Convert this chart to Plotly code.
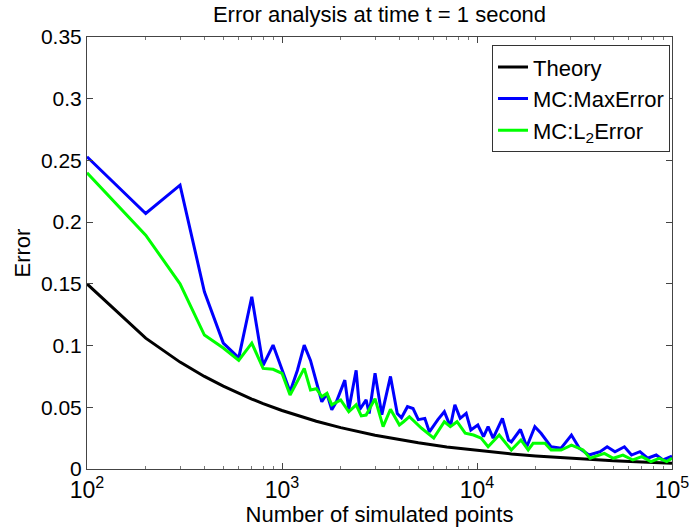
import plotly.graph_objects as go

# Theory curve
theory_n = [100, 200, 300, 400, 500, 600, 700, 800, 900, 1000, 1500, 2000, 3000,
            4000, 5000, 7000, 10000, 15000, 20000, 30000, 50000, 70000, 100000]
theory_err = [0.150, 0.106, 0.0866, 0.075, 0.0671, 0.0612, 0.0567, 0.0530, 0.050,
              0.0474, 0.0387, 0.0335, 0.0274, 0.0237, 0.0212, 0.0179, 0.0150,
              0.0122, 0.0106, 0.0087, 0.0067, 0.0057, 0.0047]

# MC: MaxError
max_n = [100, 200, 300, 400, 500, 600, 700, 800, 900, 1000, 1100, 1200, 1300, 1400,
         1500, 1600, 1700, 1800, 1900, 2100, 2200, 2400, 2500, 2700, 2800, 3000,
         3250, 3600, 3900, 4100, 4400, 4700, 5000, 5400, 5700, 6300, 6800, 7300,
         7700, 8200, 8800, 9300, 10100, 10800, 11400, 12100, 13500, 14500, 15000,
         16700, 18000, 19800, 21300, 24000, 27000, 30500, 33500, 37500, 42800,
         46500, 51000, 57000, 62000, 68500, 75000, 83000, 90000, 100000]
max_err = [0.253, 0.207, 0.230, 0.1436, 0.102, 0.090, 0.1396, 0.084, 0.1004, 0.080,
           0.0626, 0.080, 0.1004, 0.088, 0.070, 0.0545, 0.061, 0.048, 0.0545, 0.072,
           0.048, 0.080, 0.048, 0.056, 0.045, 0.0775, 0.044, 0.075, 0.045, 0.0415,
           0.0505, 0.049, 0.040, 0.041, 0.030, 0.040, 0.0464, 0.0343, 0.052, 0.041,
           0.045, 0.0316, 0.0356, 0.0262, 0.0343, 0.025, 0.041, 0.0235, 0.022,
           0.032, 0.018, 0.0343, 0.0289, 0.018, 0.0168, 0.0275, 0.0168, 0.0113,
           0.014, 0.018, 0.014, 0.018, 0.0113, 0.014, 0.0087, 0.0113, 0.0073, 0.0105]

# MC: L2Error
l2_n = [100, 200, 300, 400, 500, 600, 700, 800, 900, 1000, 1100, 1300, 1400, 1500,
        1600, 1700, 1800, 2000, 2200, 2400, 2550, 2700, 3000, 3300, 3600, 4000,
        4200, 4500, 5200, 6000, 6800, 7300, 7900, 8700, 9600, 10500, 11400, 13000,
        15000, 16800, 18300, 19400, 22300, 24000, 27000, 30500, 35000, 38000,
        45000, 50000, 56000, 63000, 70000, 78000, 86000, 94000, 100000]
l2_err = [0.240, 0.1895, 0.150, 0.1085, 0.098, 0.088, 0.102, 0.0815, 0.0808, 0.0775,
          0.060, 0.0815, 0.064, 0.065, 0.0586, 0.0613, 0.052, 0.056, 0.0464, 0.052,
          0.043, 0.0437, 0.057, 0.0343, 0.0484, 0.0356, 0.0383, 0.0424, 0.033,
          0.025, 0.0383, 0.0343, 0.0383, 0.029, 0.0275, 0.025, 0.018, 0.0275,
          0.0154, 0.0235, 0.0154, 0.0208, 0.0208, 0.0154, 0.0154, 0.0194, 0.0154,
          0.0087, 0.0127, 0.0087, 0.0113, 0.0073, 0.010, 0.006, 0.0087, 0.006, 0.0087]

x_tickvals = [100, 1000, 10000, 100000]
x_ticktext = ["10<sup>2</sup>", "10<sup>3</sup>", "10<sup>4</sup>", "10<sup>5</sup>"]
y_tickvals = [0, 0.05, 0.1, 0.15, 0.2, 0.25, 0.3, 0.35]
y_ticktext = ["0", "0.05", "0.1", "0.15", "0.2", "0.25", "0.3", "0.35"]
minor_vals = [m * d for d in (100, 1000, 10000) for m in range(2, 10)]

FONT = "Liberation Sans, Arial, Helvetica, sans-serif"

fig = go.Figure()
fig.add_trace(go.Scatter(x=theory_n, y=theory_err, mode="lines", name="Theory",
                         line=dict(color="black", width=3)))
fig.add_trace(go.Scatter(x=max_n, y=max_err, mode="lines", name="MC:MaxError",
                         line=dict(color="#0000ff", width=3)))
fig.add_trace(go.Scatter(x=l2_n, y=l2_err, mode="lines", name="MC:L<sub>2</sub>Error",
                         line=dict(color="#00ff00", width=3)))

axis_common = dict(showline=True, linecolor="#444", linewidth=1, mirror="ticks",
                   ticks="inside", tickcolor="#444", showgrid=False, zeroline=False,
                   automargin=False, ticklabeloverflow="allow")

fig.update_layout(
    width=689, height=527,
    margin=dict(l=87, r=17, t=37, b=58, autoexpand=False),
    paper_bgcolor="white", plot_bgcolor="white",
    font=dict(family=FONT, size=22, color="black"),
    title=dict(text="Error analysis at time t = 1 second", x=0.5, xref="paper",
               xanchor="center", y=1 - 14 / 527, yanchor="middle",
               font=dict(size=22)),
    xaxis=dict(type="log", range=[2, 5], tickvals=x_tickvals, ticktext=x_ticktext,
               ticklen=6, tickfont=dict(size=23),
               minor=dict(tickvals=minor_vals, ticks="inside", ticklen=3,
                          tickcolor="#777", showgrid=False),
               title=dict(text="Number of simulated points", font=dict(size=22),
                          standoff=0),
               **axis_common),
    yaxis=dict(range=[0, 0.35], tickvals=y_tickvals, ticktext=y_ticktext,
               ticklen=6, tickfont=dict(size=21),
               title=dict(text="Error", font=dict(size=22), standoff=4),
               **axis_common),
    legend=dict(x=0.9966, xanchor="right", y=0.981, yanchor="top",
                bgcolor="white", bordercolor="#333", borderwidth=1,
                font=dict(size=22), itemwidth=30, tracegroupgap=0),
    showlegend=True,
)

fig.write_html("out.html",
               config={"displayModeBar": False, "staticPlot": True},
               post_script="document.body.style.margin='0';document.body.style.overflow='hidden';")
